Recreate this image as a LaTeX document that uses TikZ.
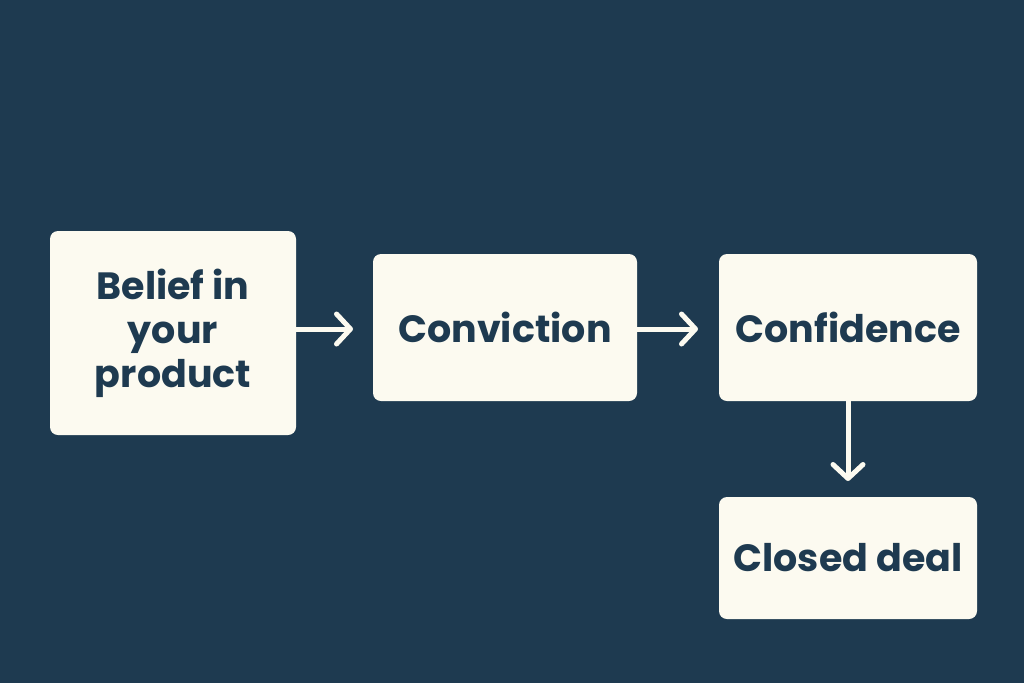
\documentclass[tikz,border=0pt]{standalone}
\usepackage{fontspec}
\setmainfont{Poppins}
\usetikzlibrary{arrows.meta}
\definecolor{bg}{HTML}{1E3A50}
\definecolor{box}{HTML}{FCFAF0}
\definecolor{txt}{HTML}{1E3A50}
\tikzset{
  stage/.style={fill=box, rounded corners=8pt, text=txt, font=\fontsize{38}{44}\selectfont\bfseries, align=center, inner sep=0pt},
  flow/.style={draw=box, line width=5pt, line cap=round, -{Straight Barb[length=14pt,width=30pt,line width=5pt,round]}}
}
\begin{document}
\begin{tikzpicture}[x=1pt,y=-1pt]
\fill[bg] (0,0) rectangle (1024,683);
\useasboundingbox (0,0) rectangle (1024,683);
\node[stage, minimum width=246pt, minimum height=204pt] (a) at (173,333) {Belief in\\your\\product};
\node[stage, minimum width=264pt, minimum height=147pt] (b) at (505,327.5) {Conviction};
\node[stage, minimum width=258pt, minimum height=147pt] (c) at (848,327.5) {Confidence};
\node[stage, minimum width=258pt, minimum height=122pt] (d) at (848,558) {Closed deal};
\coordinate (a1) at (353,329);
\coordinate (b1) at (698,329);
\coordinate (c1) at (848,481);
\draw[flow] (a.east |- a1) -- (a1);
\draw[flow] (b.east |- b1) -- (b1);
\draw[flow] (c.south) -- (c1);
\end{tikzpicture}
\end{document}
